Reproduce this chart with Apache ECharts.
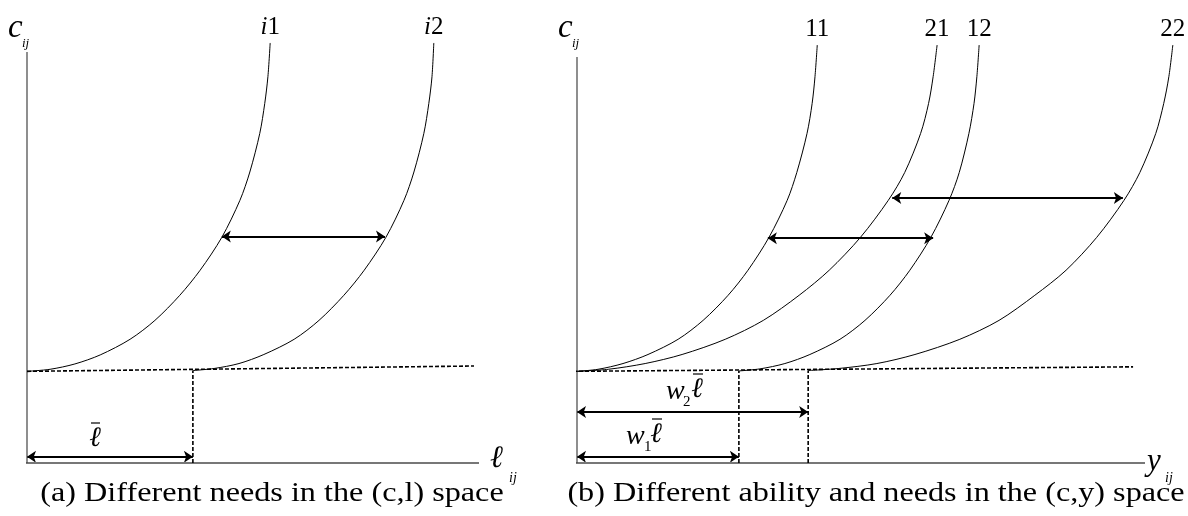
<!DOCTYPE html>
<html>
<head>
<meta charset="utf-8">
<script src="https://cdn.jsdelivr.net/npm/echarts@6/dist/echarts.min.js"></script>
<style>
  html, body { margin: 0; padding: 0; background: #fff; }
  #chart { width: 1188px; height: 516px; }
</style>
</head>
<body>
<div id="chart"></div>
<script>
// Consumption levels c at which every indifference curve is sampled
const levelsA = [2.23, 2.28, 2.41, 2.63, 3.01, 3.47, 4.08, 4.69, 5.49, 6.39, 7.08, 8.02, 8.75, 9.40, 10.22];
const levelsB = [2.23, 2.28, 2.42, 2.64, 3.01, 3.47, 4.08, 4.69, 5.49, 6.39, 7.07, 8.02, 8.75, 9.40, 10.17];

// ---- Panel (a): consumption c against labour l, two needs levels ----
const curveI1X = [0, 0.51, 1.06, 1.62, 2.28, 2.83, 3.38, 3.83, 4.31, 4.71, 4.93, 5.15, 5.26, 5.33, 5.38];
const curveI1Y = levelsA;
const curveI2X = [3.67, 4.14, 4.69, 5.24, 5.91, 6.46, 7.01, 7.46, 7.94, 8.34, 8.56, 8.78, 8.89, 8.96, 9.00];
const curveI2Y = [2.25, 2.30, 2.42, 2.64, 3.01, 3.47, 4.08, 4.69, 5.49, 6.39, 7.08, 8.02, 8.75, 9.40, 10.22];
const baseA = [[0, 2.23], [9.89, 2.36]];        // subsistence consumption
const lbarA = 3.67;                               // l-bar
const shiftArrowA = { y: 5.51, x0: 4.31, x1: 7.92 };
const lbarArrowA = { y: 0.15, x0: 0, x1: lbarA };
const axisXA = [[-0.09, 0], [10, 0]];
const axisYA = [[0, 0], [0, 10]];

// ---- Panel (b): consumption c against income y, ability x needs ----
const curve11X = [0, 0.37, 0.81, 1.25, 1.78, 2.22, 2.66, 3.01, 3.38, 3.70, 3.87, 4.05, 4.14, 4.19, 4.23];
const curve11Y = levelsB;
const curve21X = [0, 0.55, 1.20, 1.85, 2.61, 3.28, 3.91, 4.44, 4.99, 5.48, 5.77, 6.05, 6.19, 6.27, 6.34];
const curve21Y = levelsB;
const curve12X = [2.85, 3.22, 3.66, 4.10, 4.63, 5.07, 5.51, 5.86, 6.23, 6.55, 6.73, 6.90, 6.99, 7.04, 7.08];
const curve12Y = [2.24, 2.29, 2.42, 2.64, 3.01, 3.47, 4.08, 4.69, 5.49, 6.39, 7.07, 8.02, 8.75, 9.40, 10.17];
const curve22X = [4.07, 4.61, 5.28, 5.95, 6.74, 7.43, 8.06, 8.61, 9.15, 9.63, 9.91, 10.19, 10.33, 10.42, 10.49];
const curve22Y = [2.25, 2.30, 2.42, 2.64, 3.01, 3.47, 4.08, 4.69, 5.49, 6.39, 7.07, 8.02, 8.75, 9.40, 10.17];
const baseB = [[-0.07, 2.23], [9.79, 2.34]];
const w1lbar = 2.85;
const w2lbar = 4.07;
const arrowsB = [
  { y: 6.45, x0: 5.55, x1: 9.61 },
  { y: 5.47, x0: 3.36, x1: 6.27 },
  { y: 1.24, x0: 0, x1: w2lbar },
  { y: 0.15, x0: 0, x1: w1lbar }
];
const axisXB = [[-0.07, 0], [10, 0]];
const axisYB = [[0, 0], [0, 9.88]];

const curveNamesA = ['i1', 'i2'];
const curveNamesB = ['11', '21', '12', '22'];
const captionA = '(a) Different needs in the (c,l) space';
const captionB = '(b) Different ability and needs in the (c,y) space';

const zip = (xs, ys) => xs.map((x, i) => [x, ys[i]]);

const SERIF = '"Liberation Serif", "DejaVu Serif", serif';
const INK = '#000';

function curve(name, xs, ys, gi) {
  return {
    type: 'line', name: name, xAxisIndex: gi, yAxisIndex: gi,
    data: zip(xs, ys), smooth: 0.3, clip: false,
    showSymbol: false, silent: true,
    lineStyle: { color: INK, width: 1 }
  };
}
function segment(points, gi, style) {
  return {
    type: 'line', xAxisIndex: gi, yAxisIndex: gi, data: points,
    showSymbol: false, clip: false, silent: true, lineStyle: style
  };
}
const dashStyle = { color: INK, width: 1.6, type: [4, 2] };
function arrows(list, gi) {
  return {
    type: 'lines', coordinateSystem: 'cartesian2d', xAxisIndex: gi, yAxisIndex: gi,
    silent: true, symbol: ['arrow', 'arrow'], symbolSize: 9,
    lineStyle: { color: INK, width: 2, opacity: 1 },
    data: list.map(a => ({ coords: [[a.x0, a.y], [a.x1, a.y]] }))
  };
}
function tipLabels(names, curves, gi) {
  return {
    type: 'scatter', xAxisIndex: gi, yAxisIndex: gi, symbolSize: 0, silent: true, clip: false,
    itemStyle: { opacity: 1, color: INK },
    data: curves.map((c, i) => ({ value: c[c.length - 1], label: { formatter: names[i] } })),
    label: {
      show: true, position: 'top', distance: 3,
      fontFamily: SERIF, fontSize: 25, color: INK,
      rich: { it: { fontFamily: SERIF, fontSize: 25, fontStyle: 'italic', color: INK } }
    }
  };
}

const aCurves = [zip(curveI1X, curveI1Y), zip(curveI2X, curveI2Y)];
const bCurves = [zip(curve11X, curve11Y), zip(curve21X, curve21Y), zip(curve12X, curve12Y), zip(curve22X, curve22Y)];

// value axes only carry the scale; the axis lines are drawn as series
const plainAxis = (gi, max) => ({
  type: 'value', gridIndex: gi, min: 0, max: max,
  axisLine: { show: false }, axisTick: { show: false },
  axisLabel: { show: false }, splitLine: { show: false }
});

function txt(x, y, text, size, italic, align, sx) {
  return {
    type: 'text', x: x, y: y, scaleX: sx || 1, silent: true,
    style: {
      text: text, fill: INK, fontFamily: SERIF, fontSize: size,
      fontStyle: italic ? 'italic' : 'normal',
      align: align || 'left', verticalAlign: 'middle'
    }
  };
}
function bar(x0, x1, y) {
  return { type: 'line', silent: true, shape: { x1: x0, y1: y, x2: x1, y2: y },
           style: { stroke: '#333', lineWidth: 1.5 } };
}

const xAxisStyle = { color: '#777', width: 2 };
const yAxisStyle = { color: '#444', width: 1.2 };

const chart = echarts.init(document.getElementById('chart'), null, { renderer: 'canvas' });
chart.setOption({
  animation: false,
  backgroundColor: '#fff',
  grid: [
    { left: 27, top: 39.67, width: 452, height: 423.33 },
    { left: 577, top: 39.67, width: 602.08, height: 423.33 }
  ],
  xAxis: [plainAxis(0, 10), plainAxis(1, 10.6)],
  yAxis: [plainAxis(0, 10.3), plainAxis(1, 10.3)],
  series: [
    segment(axisXA, 0, xAxisStyle),
    segment(axisYA, 0, yAxisStyle),
    segment(baseA, 0, dashStyle),
    segment([[lbarA, 0], [lbarA, 2.25]], 0, dashStyle),
    curve(curveNamesA[0], curveI1X, curveI1Y, 0),
    curve(curveNamesA[1], curveI2X, curveI2Y, 0),
    arrows([shiftArrowA, lbarArrowA], 0),
    tipLabels(['{it|i}1', '{it|i}2'], aCurves, 0),

    segment(axisXB, 1, xAxisStyle),
    segment(axisYB, 1, yAxisStyle),
    segment(baseB, 1, dashStyle),
    segment([[w1lbar, 0], [w1lbar, 2.24]], 1, dashStyle),
    segment([[w2lbar, 0], [w2lbar, 2.25]], 1, dashStyle),
    curve(curveNamesB[0], curve11X, curve11Y, 1),
    curve(curveNamesB[1], curve21X, curve21Y, 1),
    curve(curveNamesB[2], curve12X, curve12Y, 1),
    curve(curveNamesB[3], curve22X, curve22Y, 1),
    arrows(arrowsB, 1),
    tipLabels(curveNamesB, bCurves, 1)
  ],
  graphic: [
    // axis names
    txt(8, 28, 'c', 33, true), txt(22, 44, 'ij', 13, true),
    txt(490, 459, 'ℓ', 31, true), txt(509, 478, 'ij', 14, true),
    txt(558, 28, 'c', 33, true), txt(572, 44, 'ij', 13, true),
    txt(1147, 462, 'y', 31, true), txt(1165, 478, 'ij', 14, true),
    // l-bar under panel (a)
    txt(95, 439, 'ℓ', 28, true, 'center'), bar(91, 100, 423),
    // w2 l-bar and w1 l-bar under panel (b)
    txt(666, 392, 'w', 28, true), txt(683, 402, '2', 15, false), txt(697, 390, 'ℓ', 28, true, 'center'), bar(693, 703, 374),
    txt(626, 437, 'w', 28, true), txt(644, 447, '1', 15, false), txt(656, 435, 'ℓ', 28, true, 'center'), bar(652, 662, 419),
    // captions
    txt(272, 494, captionA, 28, false, 'center', 1.15),
    txt(876, 494, captionB, 28, false, 'center', 1.15)
  ]
});
</script>
</body>
</html>
